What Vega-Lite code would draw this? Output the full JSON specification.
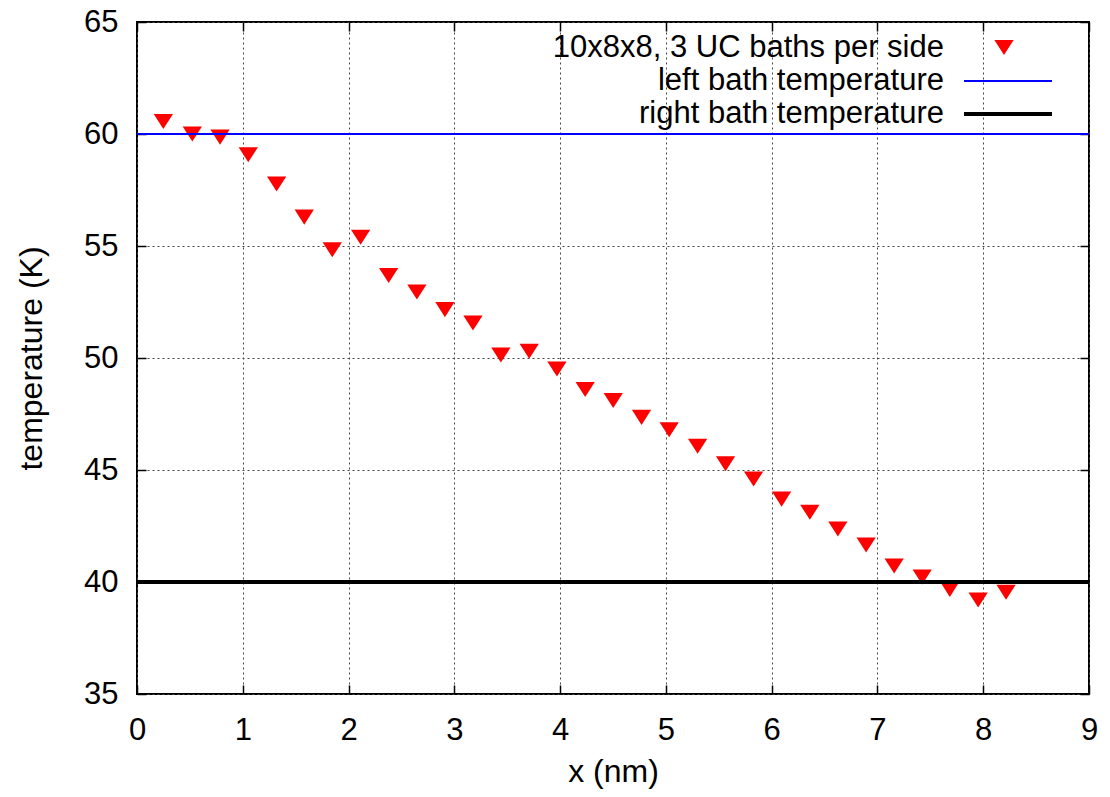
{
  "$schema": "https://vega.github.io/schema/vega-lite/v6.json",
  "width": 952,
  "height": 672,
  "autosize": {"type": "none"},
  "padding": {"left": 137, "top": 22, "right": 21, "bottom": 103},
  "background": "white",
  "config": {
    "view": {"stroke": "black", "strokeWidth": 2},
    "font": "Liberation Sans",
    "axis": {
      "labelFont": "Liberation Sans",
      "titleFont": "Liberation Sans",
      "labelFontSize": 31,
      "titleFontSize": 32,
      "titleFontWeight": "normal",
      "labelColor": "black",
      "titleColor": "black",
      "domain": false,
      "tickColor": "black",
      "tickWidth": 1.5,
      "tickSize": -9,
      "gridColor": "#444444",
      "gridDash": [2, 3],
      "gridWidth": 1,
      "gridOpacity": 1,
      "labelFlush": false,
      "labelOverlap": false
    },
    "legend": {
      "labelFont": "Liberation Sans",
      "labelFontSize": 31,
      "labelColor": "black",
      "labelAlign": "right",
      "padding": 0,
      "orient": "none",
      "labelLimit": 0
    }
  },
  "datasets": {
    "profile": [
      {"x": 0.249, "temperature": 60.56},
      {"x": 0.523, "temperature": 60.00},
      {"x": 0.785, "temperature": 59.86},
      {"x": 1.052, "temperature": 59.07},
      {"x": 1.320, "temperature": 57.77},
      {"x": 1.581, "temperature": 56.29},
      {"x": 1.846, "temperature": 54.83},
      {"x": 2.114, "temperature": 55.39},
      {"x": 2.379, "temperature": 53.68},
      {"x": 2.646, "temperature": 52.95},
      {"x": 2.911, "temperature": 52.16},
      {"x": 3.176, "temperature": 51.56},
      {"x": 3.440, "temperature": 50.13},
      {"x": 3.708, "temperature": 50.30},
      {"x": 3.970, "temperature": 49.51},
      {"x": 4.237, "temperature": 48.59},
      {"x": 4.502, "temperature": 48.10},
      {"x": 4.770, "temperature": 47.35},
      {"x": 5.031, "temperature": 46.80},
      {"x": 5.300, "temperature": 46.06},
      {"x": 5.564, "temperature": 45.28},
      {"x": 5.829, "temperature": 44.60},
      {"x": 6.094, "temperature": 43.70},
      {"x": 6.361, "temperature": 43.11},
      {"x": 6.626, "temperature": 42.37},
      {"x": 6.893, "temperature": 41.65},
      {"x": 7.158, "temperature": 40.71},
      {"x": 7.423, "temperature": 40.22},
      {"x": 7.684, "temperature": 39.67},
      {"x": 7.952, "temperature": 39.20},
      {"x": 8.216, "temperature": 39.54}
    ],
    "baths": [
      {"series": "left bath temperature", "temperature": 60},
      {"series": "right bath temperature", "temperature": 40}
    ]
  },
  "resolve": {
    "scale": {"color": "independent"},
    "legend": {"color": "independent"},
    "axis": {"x": "independent", "y": "independent"}
  },
  "layer": [
    {
      "data": {"name": "profile"},
      "mark": {"type": "point", "opacity": 0},
      "encoding": {
        "x": {
          "field": "x", "type": "quantitative",
          "scale": {"domain": [0, 9], "nice": false, "zero": false},
          "axis": {"orient": "top", "labels": false, "grid": false, "title": null, "values": [0, 1, 2, 3, 4, 5, 6, 7, 8, 9]}
        },
        "y": {
          "field": "temperature", "type": "quantitative",
          "scale": {"domain": [35, 65], "nice": false, "zero": false},
          "axis": {"orient": "right", "labels": false, "grid": false, "title": null, "values": [35, 40, 45, 50, 55, 60, 65]}
        }
      }
    },
    {
      "data": {"name": "profile"},
      "mark": {"type": "point", "filled": true, "opacity": 1, "shape": "M-1,-0.78L1,-0.78L0,0.78Z", "size": 372, "strokeWidth": 0},
      "encoding": {
        "x": {
          "field": "x", "type": "quantitative",
          "scale": {"domain": [0, 9], "nice": false, "zero": false},
          "axis": {"orient": "bottom", "title": "x (nm)", "grid": true, "labelPadding": 30, "titlePadding": 11, "values": [0, 1, 2, 3, 4, 5, 6, 7, 8, 9]}
        },
        "y": {
          "field": "temperature", "type": "quantitative",
          "scale": {"domain": [35, 65], "nice": false, "zero": false},
          "axis": {"orient": "left", "title": "temperature (K)", "grid": true, "labelPadding": 28, "titlePadding": 35, "values": [35, 40, 45, 50, 55, 60, 65]}
        },
        "color": {
          "datum": "10x8x8, 3 UC baths per side",
          "type": "nominal",
          "scale": {"domain": ["10x8x8, 3 UC baths per side"], "range": ["#ff0000"]},
          "legend": {"title": null, "legendX": 851.5, "legendY": 10, "labelOffset": -75.5, "symbolType": "M-1,-0.78L1,-0.78L0,0.78Z", "symbolSize": 372, "symbolStrokeWidth": 0}
        }
      }
    },
    {
      "data": {"name": "baths"},
      "transform": [{"filter": "datum.series === 'left bath temperature'"}],
      "mark": {"type": "rule", "strokeWidth": 2},
      "encoding": {
        "y": {
          "field": "temperature", "type": "quantitative",
          "scale": {"domain": [35, 65], "nice": false, "zero": false},
          "axis": null
        },
        "color": {
          "field": "series", "type": "nominal",
          "scale": {"domain": ["left bath temperature"], "range": ["#0000ff"]},
          "legend": {"title": null, "legendX": 826, "legendY": 14, "labelOffset": -109, "symbolType": "stroke", "symbolSize": 7744, "symbolStrokeWidth": 2}
        }
      }
    },
    {
      "data": {"name": "baths"},
      "transform": [{"filter": "datum.series === 'right bath temperature'"}],
      "mark": {"type": "rule", "strokeWidth": 4},
      "encoding": {
        "y": {
          "field": "temperature", "type": "quantitative",
          "scale": {"domain": [35, 65], "nice": false, "zero": false},
          "axis": null
        },
        "color": {
          "field": "series", "type": "nominal",
          "scale": {"domain": ["right bath temperature"], "range": ["#000000"]},
          "legend": {"title": null, "legendX": 825, "legendY": 46, "labelOffset": -110, "symbolType": "stroke", "symbolSize": 7744, "symbolStrokeWidth": 4}
        }
      }
    }
  ]
}
